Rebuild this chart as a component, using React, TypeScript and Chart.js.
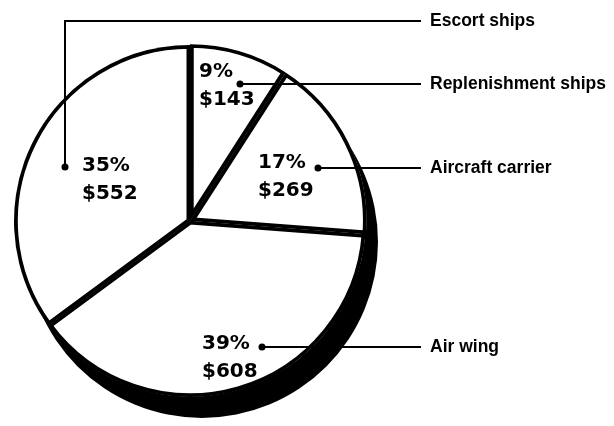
import React, { useEffect, useRef } from "react";
import { Chart, registerables } from "chart.js";

Chart.register(...registerables);

// ---- data ----
const categories = ["Replenishment ships", "Aircraft carrier", "Air wing", "Escort ships"];
const costs = [143, 269, 608, 552];
const percentLabels = ["9%", "17%", "39%", "35%"];
const dollarLabels = ["$143", "$269", "$608", "$552"];

// ---- layout (pixel offsets relative to pie centre, for a radius of 176) ----
const BASE_R = 176;
const dotOffsets = [
  [50, -137],
  [128, -53],
  [72, 126],
  [-125, -54],
];
const textOffsets = [
  [9, -149],
  [68, -58],
  [12, 123],
  [-108, -55],
];
const labelYs = [84, 168, 347, 21];
const sliceOffsets = [3, 3, 0, 0];

const shadowPlugin = {
  id: "pieShadow",
  beforeDatasetsDraw(chart: any) {
    const arc = chart.getDatasetMeta(0).data[2];
    if (!arc) return;
    const { x, y, outerRadius } = arc.getProps(["x", "y", "outerRadius"], true);
    const ctx = chart.ctx;
    ctx.save();
    ctx.fillStyle = "#000";
    ctx.beginPath();
    ctx.arc(x + 12, y + 21, outerRadius, 0, Math.PI * 2);
    ctx.fill();
    ctx.restore();
  },
};

const labelPlugin = {
  id: "leaderLabels",
  afterDatasetsDraw(chart: any) {
    const meta = chart.getDatasetMeta(0);
    const ref = meta.data[2];
    if (!ref) return;
    const { x: cx, y: cy, outerRadius } = ref.getProps(["x", "y", "outerRadius"], true);
    const k = outerRadius / BASE_R;
    const ctx = chart.ctx;
    const lineEnd = 421;
    const labelX = 430;
    ctx.save();
    categories.forEach((name, i) => {
      const dx = cx + dotOffsets[i][0] * k;
      const dy = cy + dotOffsets[i][1] * k;
      const ly = labelYs[i];
      const bent = Math.abs(ly - dy) > 3;
      ctx.strokeStyle = "#000";
      ctx.lineWidth = 2;
      ctx.beginPath();
      ctx.moveTo(dx, dy);
      if (bent) {
        ctx.lineTo(dx, ly);
        ctx.lineTo(lineEnd, ly);
      } else {
        ctx.lineTo(lineEnd, dy);
      }
      ctx.stroke();
      ctx.fillStyle = "#000";
      ctx.beginPath();
      ctx.arc(dx, dy, 3.5, 0, Math.PI * 2);
      ctx.fill();

      // values inside the slice
      const tx = cx + textOffsets[i][0] * k;
      const ty = cy + textOffsets[i][1] * k;
      ctx.font = "bold 20px 'DejaVu Sans', sans-serif";
      ctx.textAlign = "left";
      ctx.textBaseline = "middle";
      ctx.fillText(percentLabels[i], tx, ty);
      ctx.fillText(dollarLabels[i], tx, ty + 28);

      // category label
      ctx.font = "bold 17.5px 'Liberation Sans', Arial, sans-serif";
      ctx.fillText(name, labelX, bent ? ly : dy);
    });
    ctx.restore();
  },
};

export default function App() {
  const canvasRef = useRef<HTMLCanvasElement | null>(null);

  useEffect(() => {
    if (!canvasRef.current) return;
    const chart = new Chart(canvasRef.current, {
      type: "pie",
      data: {
        labels: categories,
        datasets: [
          {
            data: costs,
            backgroundColor: "#ffffff",
            borderColor: "#000000",
            borderWidth: 3.5,
            borderAlign: "inner",
            offset: sliceOffsets,
            radius: 176,
          } as any,
        ],
      },
      options: {
        responsive: false,
        animation: false,
        devicePixelRatio: 1,
        layout: { padding: { left: 0, right: 234, top: 31, bottom: 15 } },
        plugins: {
          legend: { display: false },
          tooltip: { enabled: false },
        },
      },
      plugins: [shadowPlugin, labelPlugin],
    });
    return () => chart.destroy();
  }, []);

  return (
    <div style={{ position: "absolute", left: 0, top: 0, width: 614, height: 426, background: "#fff" }}>
      <canvas ref={canvasRef} width={614} height={426} />
    </div>
  );
}
